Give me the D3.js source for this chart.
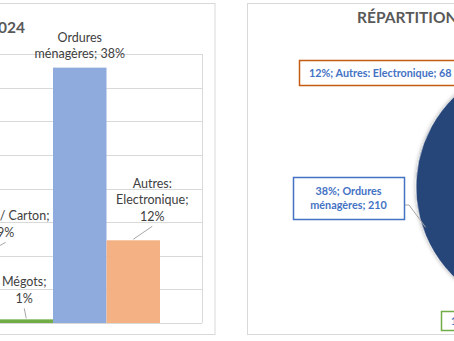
<!DOCTYPE html>
<html>
<head>
<meta charset="utf-8">
<script src="https://cdn.jsdelivr.net/npm/d3@7"></script>
<style>
  html, body { margin: 0; padding: 0; background: #fff; }
  svg { display: block; font-family: Lato, "Open Sans", sans-serif; }
</style>
</head>
<body>
<svg id="chart" width="454" height="341"></svg>
<script>
// data
const categories = ["Papier / Carton", "Mégots", "Ordures ménagères", "Autres: Electronique"];
const counts = [50, 3, 210, 68];
const hiddenCount = 222;           // slices of the pie that lie outside the picture
const barColors = ["#A5A5A5", "#70AD47", "#8FAADC", "#F4B183"];
const pieColors = ["#7F7F7F", "#548235", "#264478", "#C55A11"];
const boxColors = ["#A5A5A5", "#70AD47", "#4472C4", "#C55A11"];
const yTicks = [0, 0.05, 0.10, 0.15, 0.20, 0.25, 0.30, 0.35, 0.40];

const total = d3.sum(counts) + hiddenCount;
const data = categories.map((c, i) => ({ cat: c, count: counts[i], pct: counts[i] / total, i }));
const pctFmt = d => Math.round(d.pct * 100) + "%";

const svg = d3.select("#chart");

// panels
svg.append("rect").attr("x", -10).attr("y", 3.5).attr("width", 225).attr("height", 331)
  .attr("fill", "#fff").attr("stroke", "#D9D9D9");
svg.append("rect").attr("x", 247.5).attr("y", 3.5).attr("width", 220).attr("height", 331)
  .attr("fill", "#fff").attr("stroke", "#D9D9D9");

// ---------- bar chart ----------
const bar = svg.append("g");
const xScale = d3.scaleBand().domain(categories).range([-96, 202]).paddingInner(0).paddingOuter(0.785);
const yScale = d3.scaleLinear().domain([0, 0.40]).range([323, 54]);

bar.selectAll(".grid").data(yTicks).enter().append("line")
  .attr("class", "grid")
  .attr("x1", -10).attr("x2", 202)
  .attr("y1", d => Math.round(yScale(d)) + 0.5).attr("y2", d => Math.round(yScale(d)) + 0.5)
  .attr("stroke", "#D9D9D9");
bar.append("line").attr("x1", 202.5).attr("x2", 202.5).attr("y1", yScale(0.40)).attr("y2", yScale(0))
  .attr("stroke", "#D9D9D9");

bar.selectAll(".bar").data(data).enter().append("rect")
  .attr("class", "bar")
  .attr("x", d => xScale(d.cat))
  .attr("y", d => yScale(d.pct))
  .attr("width", xScale.bandwidth())
  .attr("height", d => yScale(0) - yScale(d.pct))
  .style("fill", d => barColors[d.i]);

bar.append("text").attr("x", 25).attr("y", 33)
  .attr("text-anchor", "end").attr("font-size", 15.5).attr("font-weight", "bold").attr("fill", "#595959")
  .text("DÉCHETS COLLECTÉS EN 2024");

// bar labels: offset from the bar top
const barLabel = {
  "Papier / Carton": { dx: 33, dy: -30, lines: d => ["Papier / Carton;", pctFmt(d)], leader: true },
  "Mégots": { dx: -2, dy: -21, lines: d => ["Mégots;", pctFmt(d)], leader: true },
  "Ordures ménagères": { dx: 0, dy: -14, lines: d => ["Ordures", "ménagères; " + pctFmt(d)], leader: false },
  "Autres: Electronique": { dx: 19, dy: -24, lines: d => ["Autres:", "Electronique;", pctFmt(d)], leader: true }
};
const lh = 16.5;
data.forEach(d => {
  const L = barLabel[d.cat];
  const cx = xScale(d.cat) + xScale.bandwidth() / 2;
  const top = yScale(d.pct);
  const lines = L.lines(d);
  const t = bar.append("text").attr("text-anchor", "middle").attr("font-size", 12.5).attr("fill", "#404040");
  lines.forEach((s, k) => {
    t.append("tspan").attr("x", cx + L.dx)
      .attr("y", top + L.dy - (lines.length - 1 - k) * lh + 4.5).text(s);
  });
  if (L.leader) {
    bar.append("line").attr("x1", cx + L.dx).attr("y1", top + L.dy + 10)
      .attr("x2", cx).attr("y2", top - 1).attr("stroke", "#A6A6A6");
  }
});

// ---------- pie ----------
const defs = svg.append("defs");
const f = defs.append("filter").attr("id", "sh").attr("x", "-20%").attr("y", "-20%").attr("width", "140%").attr("height", "140%");
f.append("feDropShadow").attr("dx", 0).attr("dy", 0).attr("stdDeviation", 2).attr("flood-color", "#000").attr("flood-opacity", 0.35);

const pcx = 541.6, pcy = 187, pr = 125.6;
const pieData = [{ cat: "hidden", count: hiddenCount, i: -1 }].concat(data);
const arcs = d3.pie().sort(null).value(d => d.count)(pieData);
const arc = d3.arc().innerRadius(0).outerRadius(pr);
const pie = svg.append("g").attr("transform", `translate(${pcx},${pcy})`);
pie.selectAll("path").data(arcs).enter().append("path")
  .attr("d", arc)
  .attr("fill", a => a.data.i < 0 ? "#A5A5A5" : pieColors[a.data.i])
  .attr("stroke", "#fff").attr("stroke-width", 0.5)
  .attr("filter", "url(#sh)");

svg.append("text").attr("x", 357).attr("y", 23)
  .attr("font-size", 15.5).attr("font-weight", "bold").attr("fill", "#595959")
  .text("RÉPARTITION DES DÉCHETS");

// pie label boxes
const boxLayout = {
  "Autres: Electronique": { x: 299, y: 60, w: 170, h: 25, lines: d => [pctFmt(d) + "; Autres: Electronique; " + d.count] },
  "Ordures ménagères": { x: 293, y: 177, w: 111, h: 42, lines: d => [pctFmt(d) + "; Ordures", "ménagères; " + d.count], leader: true },
  "Mégots": { x: 441, y: 311, w: 70, h: 19, lines: d => [pctFmt(d) + "; Mégots; " + d.count] }
};
const outer = d3.arc().innerRadius(pr).outerRadius(pr);
arcs.forEach(a => {
  const B = boxLayout[a.data.cat];
  if (!B) return;
  const d = a.data;
  if (B.leader) {
    const c = outer.centroid(a);
    svg.append("polyline")
      .attr("points", [[B.x + B.w, B.y + 28], [B.x + B.w + 5, B.y + 28], [pcx + c[0], pcy + c[1] - 8]].join(" "))
      .attr("fill", "none").attr("stroke", "#A6A6A6");
  }
  svg.append("rect").attr("x", B.x + 0.5).attr("y", B.y + 0.5).attr("width", B.w).attr("height", B.h)
    .attr("fill", "#fff").attr("stroke", boxColors[d.i]).attr("stroke-width", 1.5);
  const lines = B.lines(d);
  const t = svg.append("text").attr("font-size", 10.8).attr("font-weight", "bold").attr("fill", "#4472C4")
    .attr("text-anchor", lines.length > 1 ? "middle" : "start");
  lines.forEach((s, k) => {
    t.append("tspan")
      .attr("x", lines.length > 1 ? B.x + B.w / 2 : B.x + 10)
      .attr("y", B.y + B.h / 2 + 4 + (k - (lines.length - 1) / 2) * 13.5)
      .text(s);
  });
});
</script>
</body>
</html>
